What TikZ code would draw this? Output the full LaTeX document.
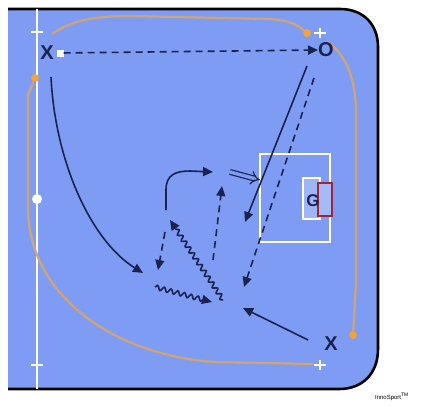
\documentclass[tikz,border=0pt]{standalone}
\usepackage{fontspec}
\setsansfont{Liberation Sans}
\usetikzlibrary{arrows.meta,decorations.pathmorphing}
\definecolor{court}{HTML}{7E9CF3}
\definecolor{run}{HTML}{1A2350}
\definecolor{cone}{HTML}{D2A474}
\definecolor{dot}{HTML}{F2A23A}
\definecolor{keeper}{HTML}{9E2436}

\begin{document}
\begin{tikzpicture}[x=1pt,y=-1pt,
  player/.style={font=\fontsize{20}{20}\sffamily\bfseries,text=run,inner sep=0pt},
  move/.style={run,line width=1.6pt,-{Triangle[length=10pt,width=9pt]}},
  pass/.style={move,dash pattern=on 7pt off 5pt},
  dribble/.style={move,decorate,decoration={snake,amplitude=2.2pt,segment length=7pt,post length=8pt}},
  track/.style={cone,line width=2.2pt}]
  \useasboundingbox (0,0) rectangle (422,407);
  % court and side line
  \fill[court] (8,9) -- (340,9) .. controls (363,9) and (378,24) .. (378,47) -- (378,349)
    .. controls (378,373) and (363,389) .. (339,389) -- (8,389) -- cycle;
  \draw[line width=2.6pt] (8,9) -- (340,9) .. controls (363,9) and (378,24) .. (378,47) -- (378,349)
    .. controls (378,373) and (363,389) .. (339,389) -- (8,389);
  \draw[white,line width=1.6pt] (37,9) -- (37,389);
  \fill[white] (37,199) circle (5);
  \foreach \p in {(37,32),(320,33),(320,365),(37,365)}
    \draw[white,line width=1.2pt] \p ++(-6,0) -- ++(12,0) \p ++(0,-5) -- ++(0,10);
  % running track
  \node[circle,fill=dot,inner sep=2.8pt] (d1) at (307,33) {};
  \node[circle,fill=dot,inner sep=2.8pt] (d2) at (353,335) {};
  \node[circle,fill=dot,inner sep=2.8pt] (d3) at (35,78) {};
  \draw[track] (52,34) .. controls (72,20) and (95,16) .. (130,16) -- (270,19)
    .. controls (288,20) and (298,25) .. (d1);
  \draw[track] (328,42) .. controls (345,55) and (355,75) .. (356,110) -- (356,283) -- (d2);
  \draw[track] (313,364) -- (215,362) .. controls (120,356) and (30,300) .. (28,210)
    -- (28,95) -- (d3);
  % goal
  \draw[white,line width=1.3pt] (260,154) rectangle (330,242);
  \draw[white,line width=1.3pt,fill=court!75!white] (303,178) rectangle (320,219);
  \draw[keeper,line width=1.3pt,fill=court!70!white] (318,183) rectangle (332,216);
  % players
  \node[player] (x1) at (47,53) {X};
  \node[fill=white,minimum size=7pt,inner sep=0pt] (ball) at (60,53) {};
  \node[player] (o1) at (326,50) {O};
  \node[player,font=\fontsize{17}{17}\sffamily\bfseries] (g1) at (313,201) {G};
  \node[player] (x2) at (331,344) {X};
  \node[font=\fontsize{6}{6}\sffamily,inner sep=0pt] (logo) at (392,397) {InnoSport\textsuperscript{\tiny TM}};
  % runs, passes and dribbles
  \draw[pass] (ball) -- (o1.west);
  \draw[move] (51,77) .. controls (55,160) and (90,240) .. (143,273);
  \draw[move] (307,66) -- (245,222);
  \draw[pass] (314,78) -- (244,287);
  \draw[run,line width=1.2pt,double=court,double distance=3.5pt,-{Implies[length=5pt]}] (230,172) -- (260,180);
  \draw[move] (166,210) -- (166,190) .. controls (166,175) and (175,171) .. (190,171) -- (213,172);
  \draw[pass] (213,260) -- (222,186);
  \draw[pass] (165,232) -- (158,270);
  \draw[dribble] (223,300) -- (170,220);
  \draw[dribble] (155,287) -- (212,302);
  \draw[move] (x2.west) ++(-16,-4) coordinate (x2s) (x2s) -- (243,308);
\end{tikzpicture}
\end{document}
